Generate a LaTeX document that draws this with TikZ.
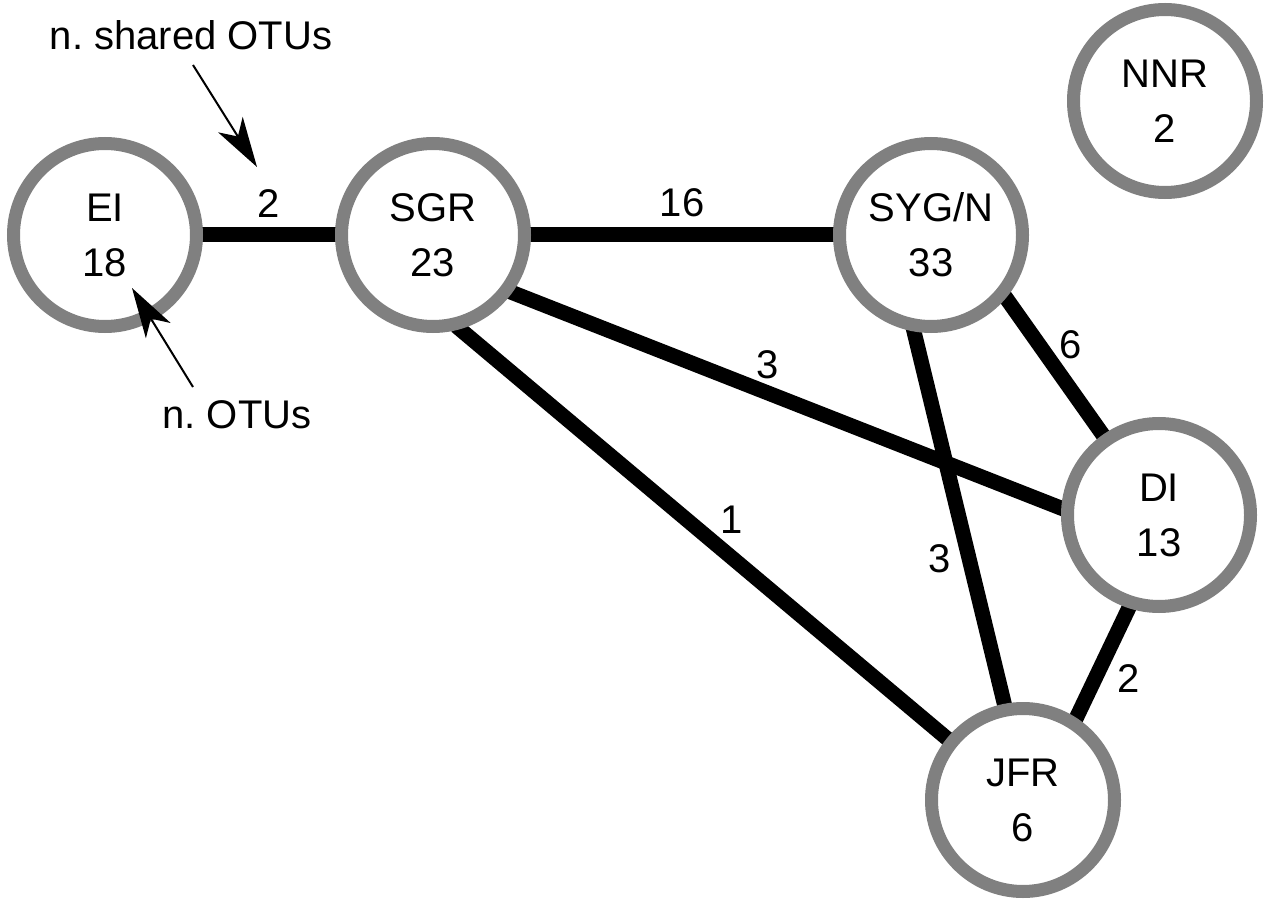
\documentclass[tikz,border=0pt]{standalone}
\usepackage{fontspec}
\setmainfont{Liberation Sans}
\usepackage{tikz}
\usetikzlibrary{arrows.meta,backgrounds}
\definecolor{ringgray}{RGB}{128,128,128}
\frenchspacing

\begin{document}
\begin{tikzpicture}[x=1pt,y=-1pt,
    site/.style={circle, draw=ringgray, line width=13pt, fill=white, minimum size=183pt,
                 inner sep=0pt, align=center, font=\fontsize{40}{55}\selectfont},
    link/.style={line width=15pt, shorten <=-5pt, shorten >=-5pt},
    count/.style={anchor=base, inner sep=0pt, font=\fontsize{40}{48}\selectfont},
    pointer/.style={line width=2pt, -{Stealth[length=50pt,width=29pt,inset=14pt]}}]
    \useasboundingbox (0,0) rectangle (1269,909);

    % sites with number of OTUs
    \node[site] (EI)  at (105,235)  {EI\\18};
    \node[site] (SGR) at (433,235)  {SGR\\23};
    \node[site] (SYG) at (931,235)  {SYG/N\\33};
    \node[site] (NNR) at (1165,101) {NNR\\2};
    \node[site] (DI)  at (1159,515) {DI\\13};
    \node[site] (JFR) at (1023,800) {JFR\\6};

    % links between sites
    \begin{pgfonlayer}{background}
        \draw[link] (EI.0) -- (SGR.180);
        \draw[link] (SGR.0) -- (SYG.180);
        \draw[link] (SGR.-36) -- (DI.176);
        \draw[link] (SGR.-74) -- (JFR.141);
        \draw[link] (SYG.-40) -- (DI.125);
        \draw[link] (SYG.-100) -- (JFR.101);
        \draw[link] (DI.-108) -- (JFR.57);
    \end{pgfonlayer}

    % number of shared OTUs
    \node[count] (nEISGR)  at (269,218)  {2};
    \node[count] (nSGRSYG) at (682,217)  {16};
    \node[count] (nSGRDI)  at (768,378)  {3};
    \node[count] (nSGRJFR) at (732,533)  {1};
    \node[count] (nSYGDI)  at (1071,358) {6};
    \node[count] (nSYGJFR) at (940,572)  {3};
    \node[count] (nDIJFR)  at (1129,692) {2};

    % legend
    \node[count] (shared) at (191,50)  {n. shared OTUs};
    \node[count] (otus)   at (237,428) {n. OTUs};
    \coordinate (sharedtail) at (193,65);
    \coordinate (sharedtip)  at (257,167);
    \coordinate (otustail)   at (193,387);
    \coordinate (otustip)    at (132,288);
    \draw[pointer] (sharedtail) -- (sharedtip);
    \draw[pointer] (otustail) -- (otustip);
\end{tikzpicture}
\end{document}
